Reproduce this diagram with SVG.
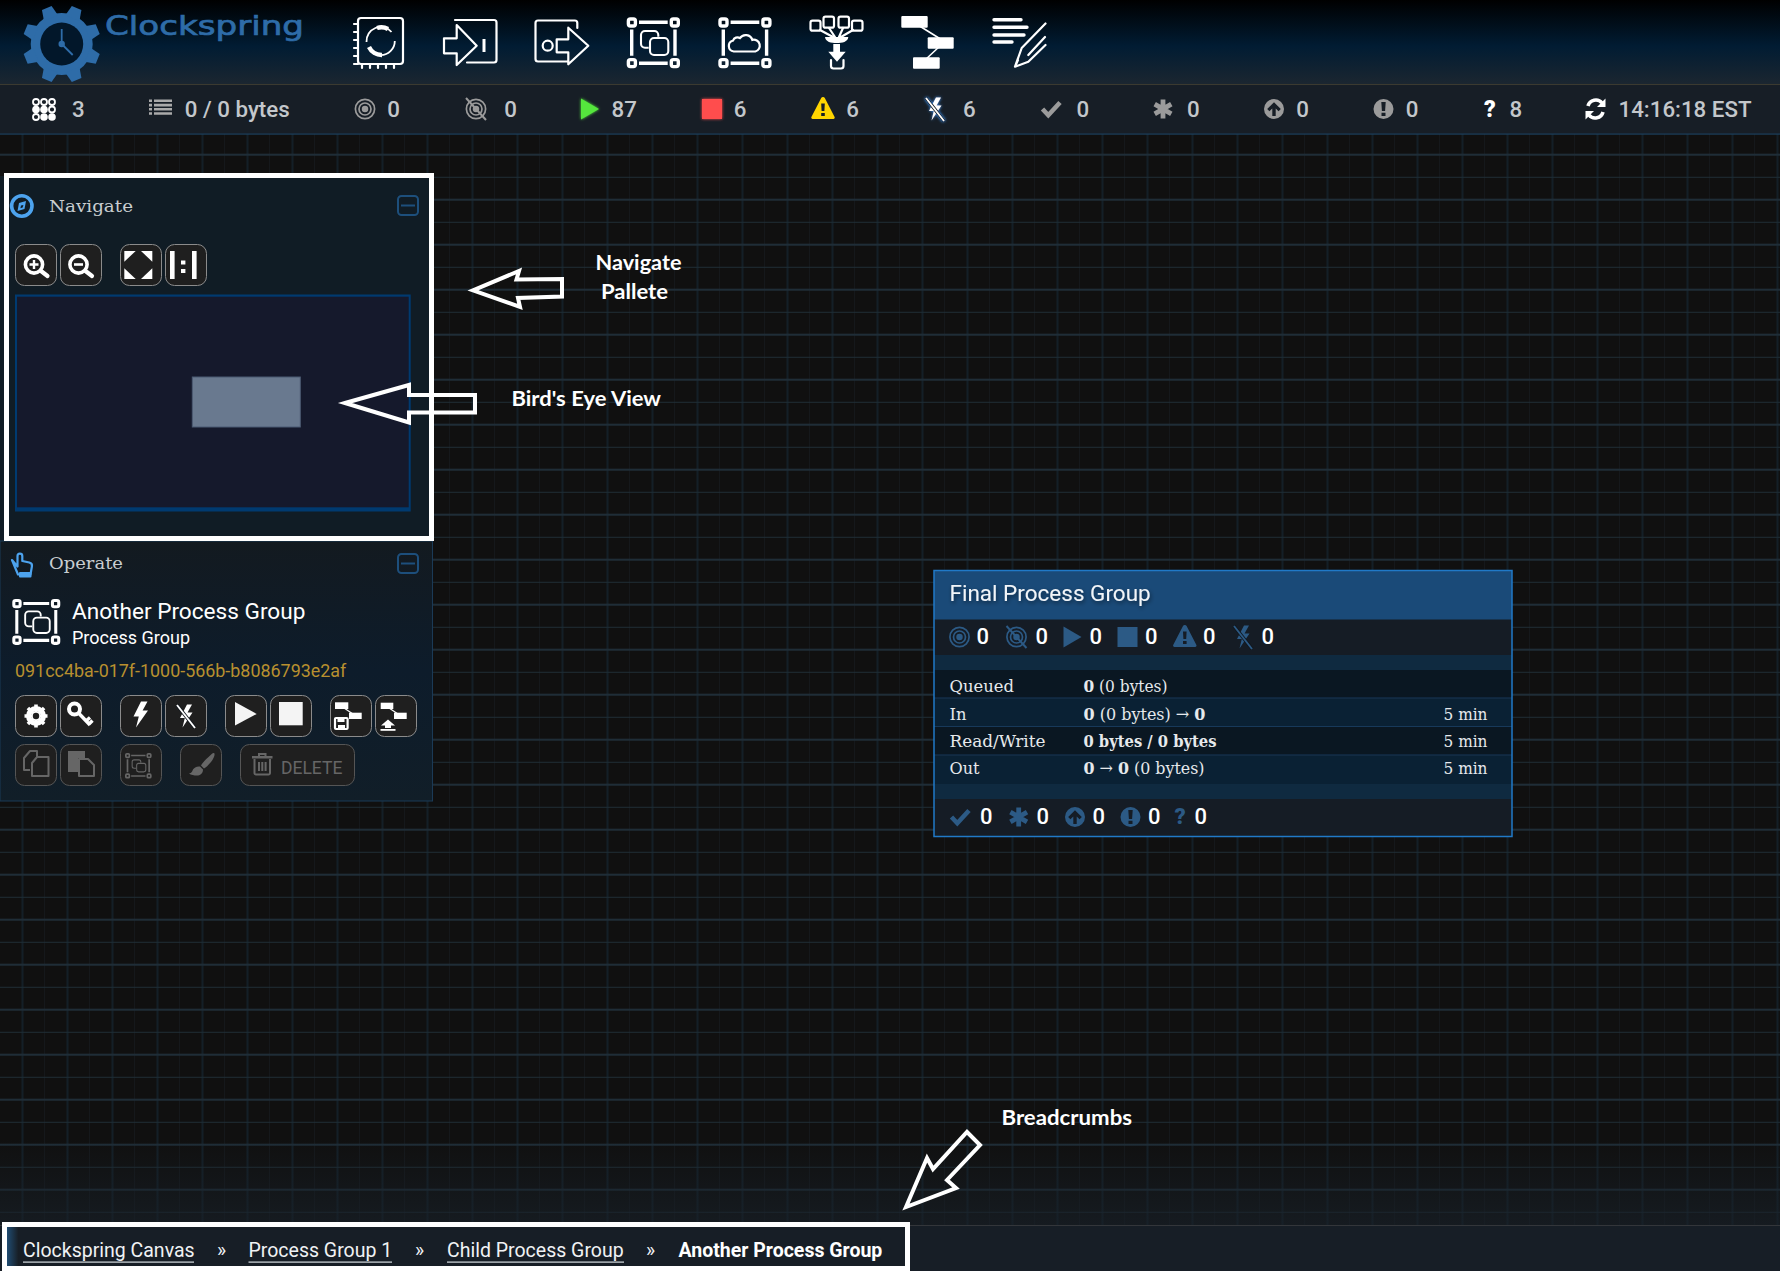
<svg xmlns="http://www.w3.org/2000/svg" xmlns:xlink="http://www.w3.org/1999/xlink" width="1780" height="1271" viewBox="0 0 1780 1271">
<style>
text{font-family:Roboto,"Liberation Sans",sans-serif;white-space:pre}
.st{font-size:22.3px;font-weight:500;fill:#c3c7cb}
.pn{font-size:22px;font-weight:500;fill:#fff}
.slab{font-family:"DejaVu Serif Condensed","DejaVu Serif",serif;font-size:17.5px;fill:#e6e9ec}
.pt{font-family:"DejaVu Serif",serif;font-size:17px;fill:#c8cdd0}
.ann{font-family:Lato,"Open Sans",sans-serif;font-size:21px;font-weight:700;fill:#fff}
.bc{font-size:19.5px;fill:#f0f2f4}
.arrow{fill:none;stroke:#fff;stroke-width:4;stroke-linejoin:miter}
.hl{fill:none;stroke:#fff;stroke-width:5}
.btn{fill:#1f1f1f;stroke:#8b8b8b;stroke-width:1}
.btnd{fill:#1f1f1f;stroke:#555;stroke-width:1}
.w{fill:#fff}
.ws{fill:none;stroke:#fff;stroke-width:2.2;stroke-linecap:round;stroke-linejoin:round}
.d{fill:#666}
.ds{fill:none;stroke:#666;stroke-width:2;stroke-linejoin:round}
.col{fill:none;stroke:#1d4f7c;stroke-width:2}
.ic{color:#9b9b9b}
.ip{color:#2c5a85}
</style>
<defs>
<pattern id="grid" patternUnits="userSpaceOnUse" width="45" height="45" x="0" y="0">
<rect x="21.5" y="0" width="2" height="45" fill="#141f27"/>
<rect x="44.5" y="0" width="1" height="45" fill="#191f25"/>
<rect x="0" y="18.7" width="45" height="2" fill="#1f2d37"/>
<rect x="0" y="41.8" width="45" height="1" fill="#1e2c34"/>
</pattern>
<linearGradient id="topbar" x1="0" y1="0" x2="0" y2="1"><stop offset="0" stop-color="#000"/><stop offset=".55" stop-color="#011c33"/><stop offset="1" stop-color="#1b2630"/></linearGradient>
<linearGradient id="panel" x1="0" y1="0" x2="0" y2="1"><stop offset="0" stop-color="#131a20"/><stop offset=".5" stop-color="#0d1c2b"/><stop offset="1" stop-color="#111e28"/></linearGradient>
<linearGradient id="floor" x1="0" y1="0" x2="0" y2="1"><stop offset="0" stop-color="#182028" stop-opacity="0"/><stop offset="1" stop-color="#182028" stop-opacity=".7"/></linearGradient>
<linearGradient id="crumb" x1="0" y1="0" x2="1" y2="0"><stop offset="0" stop-color="#204c72"/><stop offset="1" stop-color="#182028"/></linearGradient>
<filter id="glow" x="-60%" y="-60%" width="220%" height="220%"><feGaussianBlur stdDeviation="1.6" result="b"/><feMerge><feMergeNode in="b"/><feMergeNode in="SourceGraphic"/></feMerge></filter>
<filter id="bglow" x="-60%" y="-60%" width="220%" height="220%"><feDropShadow dx="0" dy="0" stdDeviation="1.8" flood-color="#3f9bff"/></filter>
<filter id="tsh" x="-10%" y="-30%" width="120%" height="160%"><feDropShadow dx="1" dy="2" stdDeviation="2" flood-color="#000" flood-opacity=".5"/></filter>

<g id="i-target" fill="none" stroke="currentColor" stroke-width="1.7"><circle r="9.6"/><circle r="6"/><circle r="2.4" fill="currentColor"/></g>
<g id="i-offline" fill="none" stroke="currentColor" stroke-width="1.7"><circle r="9.6"/><circle r="6"/><circle r="2.4" fill="currentColor"/><path d="M-10,-11 L10,11" stroke-width="2"/></g>
<polygon id="i-play" fill="currentColor" points="-9,-10.5 9,0 -9,10.5"/>
<rect id="i-stop" fill="currentColor" x="-10" y="-10" width="20" height="20"/>
<path id="i-warn" fill="currentColor" fill-rule="evenodd" d="M0,-11 a2,2 0 0 1 1.8,1 L11.6,9 a1.4,1.4 0 0 1 -1.2,2 H-10.4 a1.4,1.4 0 0 1 -1.2,-2 L-1.8,-10 a2,2 0 0 1 1.8,-1 Z M-1.8,-4.5 L-1.4,3 H1.4 L1.8,-4.5 Z M-1.8,5 V8 H1.8 V5 Z"/>
<g id="i-bolt"><polygon fill="currentColor" points="0,-13 -7.5,2 -2.2,2 -5,13 7,-4 1.6,-4 6.5,-13"/></g>
<g id="i-boltoff"><polygon fill="currentColor" points="1,-11.5 -6,2 -1.2,2 -3.5,11.5 6.5,-3.5 1.5,-3.5 6,-11.5"/><path d="M-9,-11 L9,12" stroke="#10161d" stroke-width="3.6"/><path d="M-9,-11 L9,12" stroke="currentColor" stroke-width="1.9"/></g>
<path id="i-check" fill="none" stroke="currentColor" stroke-width="4.6" d="M-9,0 L-3.2,6.2 L8.5,-6.5"/>
<g id="i-aster" stroke="currentColor" stroke-width="4.8"><path d="M0,-9.5 V9.5 M-8.3,-4.8 L8.3,4.8 M-8.3,4.8 L8.3,-4.8"/></g>
<path id="i-up" fill="currentColor" fill-rule="evenodd" d="M0,-10 A10,10 0 1 0 0,10 A10,10 0 1 0 0,-10 Z M0,-6.8 L6.8,0 L4.6,2.2 L1.7,-0.6 V7 H-1.7 V-0.6 L-4.6,2.2 L-6.8,0 Z"/>
<path id="i-excl" fill="currentColor" fill-rule="evenodd" d="M0,-10 A10,10 0 1 0 0,10 A10,10 0 1 0 0,-10 Z M-2.2,-7 L-1.6,2 H1.6 L2.2,-7 Z M-2,3.8 V7 H2 V3.8 Z"/>

<g id="i-frame" fill="none" stroke="currentColor">
<g stroke-width="3.4"><rect x="1.7" y="1.7" width="7" height="7" rx="2"/><rect x="44.6" y="1.7" width="7" height="7" rx="2"/><rect x="1.7" y="42.3" width="7" height="7" rx="2"/><rect x="44.6" y="42.3" width="7" height="7" rx="2"/></g>
<path stroke-width="3.4" d="M12.3,5 H41 M12.3,46 H41 M5,12.3 V38.5 M48.3,12.3 V38.5"/>
</g>
<g id="i-pgin" fill="none" stroke="currentColor" stroke-width="2.1"><path d="M31.6,19.5 V17.7 a4,4 0 0 0 -4,-4 H18.3 a4,4 0 0 0 -4,4 V26.4 a4,4 0 0 0 4,4 H22"/><rect x="23.3" y="20.7" width="18.3" height="17" rx="4"/></g>

<g id="i-tooth"><polygon points="-7.6,-28 -5.2,-39 5.2,-39 7.6,-28"/></g>
</defs>

<rect id="canvas" width="1780" height="1271" fill="#101010"/>
<rect width="1780" height="1271" fill="url(#grid)"/>
<rect y="1140" width="1780" height="86" fill="url(#floor)"/>

<g id="header">
<rect width="1780" height="84" fill="url(#topbar)"/>
<rect y="84" width="1780" height="1" fill="#3b3a30"/>
<g id="logo">
<g fill="#2e6ca8" transform="translate(61.7,44)">
<circle r="31"/>
<use xlink:href="#i-tooth" transform="rotate(22.5)"/><use xlink:href="#i-tooth" transform="rotate(67.5)"/><use xlink:href="#i-tooth" transform="rotate(112.5)"/><use xlink:href="#i-tooth" transform="rotate(157.5)"/><use xlink:href="#i-tooth" transform="rotate(202.5)"/><use xlink:href="#i-tooth" transform="rotate(247.5)"/><use xlink:href="#i-tooth" transform="rotate(292.5)"/><use xlink:href="#i-tooth" transform="rotate(337.5)"/>
<circle r="21.5" fill="#02172a"/>
<circle r="3.2"/>
<path d="M0,0 V-15 M0,0 L11,11" stroke="#2e6ca8" stroke-width="1.8"/>
</g>
<text x="105" y="34.5" font-size="27" textLength="199" lengthAdjust="spacingAndGlyphs" style="font-family:'DejaVu Sans',sans-serif;fill:#2e6ca8;stroke:#2e6ca8;stroke-width:.7">Clockspring</text>
</g>
<g id="tb-processor"><rect class="ws" x="358" y="18" width="45" height="46" rx="3"/><path class="ws" stroke-width="1.4" d="M354,24 h4 M354,32 h4 M354,40 h4 M354,48 h4 M354,56 h4 M354,64 h4 M362,64 v4 M370,64 v4 M378,64 v4 M386,64 v4 M394,64 v4"/><path d="M366.5,42 a14.2,14.2 0 0 1 25,-10 M394.8,41 a14.2,14.2 0 0 1 -14,14.2 a14.2,14.2 0 0 1 -10,-4" fill="none" stroke="#fff" stroke-width="1.8"/><path d="M369,47 a14,14 0 0 0 13,8 M377,28 a14,14 0 0 1 11,1" fill="none" stroke="#fff" stroke-width="4.4"/></g>
<g id="tb-input"><path class="ws" d="M455,20 H494 a2.5,2.5 0 0 1 2.5,2.5 V60 a2.5,2.5 0 0 1 -2.5,2.5 H467"/><polygon class="ws" points="444,38.3 456.7,38.3 456.7,25 476.7,45.7 456.7,65 456.7,53.3 444,53.3"/><rect class="w" x="482.5" y="39" width="3" height="13"/></g>
<g id="tb-output"><path class="ws" d="M577.3,28 V23 a2.5,2.5 0 0 0 -2.5,-2.5 H538 a2.5,2.5 0 0 0 -2.5,2.5 V59 a2.5,2.5 0 0 0 2.5,2.5 H568"/><circle class="ws" cx="547.7" cy="45.7" r="5"/><polygon class="ws" points="556.7,39.3 568.3,39.3 568.3,27.7 588.3,45.7 568.3,64.3 568.3,52.3 556.7,52.3"/></g>
<g id="tb-pg" color="#fff" transform="translate(626.7,17.3)"><use xlink:href="#i-frame"/><use xlink:href="#i-pgin"/></g>
<g id="tb-rpg" color="#fff" transform="translate(718.3,17.3)"><use xlink:href="#i-frame"/><path d="M15.5,34.2 a5.6,5.6 0 0 1 -0.7,-11 a4.6,4.6 0 0 1 6.8,-2.4 a7,7 0 0 1 12.4,1.8 a5.8,5.8 0 0 1 3,11.6 Z" fill="none" stroke="#fff" stroke-width="2.2"/></g>
<g id="tb-funnel"><rect class="ws" x="810.5" y="20.7" width="10" height="10" rx="2" stroke-width="1.8"/><rect class="ws" x="823.5" y="16.7" width="10.5" height="11" rx="2" stroke-width="1.8"/><rect class="ws" x="838.5" y="16.7" width="10.5" height="11" rx="2" stroke-width="1.8"/><rect class="ws" x="852" y="20.7" width="10.5" height="10" rx="2" stroke-width="1.8"/><path class="ws" stroke-width="1.6" d="M820,30 L833,37 M829,28 L835,37 M843,28 L839,37 M853,30 L841,37"/><path class="w" d="M825,37 H848.3 C848,42 842,43 836.7,43 C831,43 825.5,42 825,37 Z"/><polygon class="w" points="833.3,44 840,44 840,51.7 845.7,51.7 837,61.7 828.3,51.7 833.3,51.7"/><path class="ws" d="M831,60 V66 a2.5,2.5 0 0 0 2.5,2.5 H841 a2.5,2.5 0 0 0 2.5,-2.5 V60"/></g>
<g id="tb-template"><path d="M918,25 L942,40 M940,46 L925,60" stroke="#fff" stroke-width="1.6"/><rect class="w" x="901.3" y="16" width="26.4" height="11.7" rx="1"/><rect class="w" x="927.7" y="37.3" width="26" height="11.4" rx="1"/><rect class="w" x="913" y="57.3" width="26.7" height="11.4" rx="1"/></g>
<g id="tb-label"><path d="M994,19.7 H1021 M994,27.3 H1027 M994,35 H1024 M994,42 H1012" stroke="#fff" stroke-width="3.4" stroke-linecap="round"/><path class="ws" stroke-width="2.2" d="M1045.5,23.5 L1021.7,48 L1015,66.7 L1028.3,61.7 L1045.5,45 M1028.3,55 L1045,37 M1015,66.7 L1018,60"/></g>
</g>

<g id="status">
<rect y="85" width="1780" height="49" fill="#171e26"/>
<rect y="133.5" width="1780" height="1.2" fill="#1c3f5c"/>
<g id="s-cluster" fill="#fff"><circle cx="36" cy="102" r="3" fill="none" stroke="#fff" stroke-width="1.8"/><circle cx="44" cy="102" r="3" fill="none" stroke="#fff" stroke-width="1.8"/><circle cx="52" cy="102" r="3" fill="none" stroke="#fff" stroke-width="1.8"/><circle cx="36" cy="109.5" r="3.8"/><circle cx="44" cy="109.5" r="3.8"/><circle cx="52" cy="109.5" r="3" fill="none" stroke="#fff" stroke-width="1.8"/><circle cx="36" cy="117" r="3" fill="none" stroke="#fff" stroke-width="1.8"/><circle cx="44" cy="117" r="3.8"/><circle cx="52" cy="117" r="3.8"/></g>
<text class="st" x="72" y="117">3</text>
<g id="s-list" fill="#aaa"><path d="M149,99.5h3v2.6h-3z M154,99.5h18v2.6h-18z M149,103.8h3v2.6h-3z M154,103.8h18v2.6h-18z M149,108h3v2.6h-3z M154,108h18v2.6h-18z M149,112.2h3v2.6h-3z M154,112.2h18v2.6h-18z"/></g>
<text class="st" x="184.8" y="117">0 / 0 bytes</text>
<use xlink:href="#i-target" class="ic" x="365" y="109"/><text class="st" x="387.3" y="117">0</text>
<use xlink:href="#i-offline" class="ic" x="476" y="109"/><text class="st" x="504.3" y="117">0</text>
<use xlink:href="#i-play" x="590" y="109" style="color:#55e63c" filter="url(#glow)"/><text class="st" x="611.5" y="117">87</text>
<use xlink:href="#i-stop" x="712" y="109" style="color:#ff4d4d" filter="url(#glow)"/><text class="st" x="733.8" y="117">6</text>
<use xlink:href="#i-warn" x="823" y="108" style="color:#ffd500"/><text class="st" x="846.3" y="117">6</text>
<use xlink:href="#i-boltoff" x="935" y="109" style="color:#fff" filter="url(#bglow)"/><text class="st" x="963" y="117">6</text>
<use xlink:href="#i-check" class="ic" x="1051.5" y="109"/><text class="st" x="1076.5" y="117">0</text>
<use xlink:href="#i-aster" class="ic" x="1163" y="109"/><text class="st" x="1187" y="117">0</text>
<use xlink:href="#i-up" class="ic" x="1274" y="109"/><text class="st" x="1296.3" y="117">0</text>
<use xlink:href="#i-excl" class="ic" x="1383.5" y="109"/><text class="st" x="1405.8" y="117">0</text>
<text x="1484" y="117" style="font-size:23px;font-weight:900;fill:#fff">?</text><text class="st" x="1509.5" y="117">8</text>
<g id="s-refresh" fill="none" stroke="#fff" stroke-width="3.6"><path d="M1588,106 a8,8 0 0 1 14,-3"/><path d="M1603,112 a8,8 0 0 1 -14,3"/><polygon points="1605.5,98.5 1605.5,107 1597,107" fill="#fff" stroke="none"/><polygon points="1585.5,119.5 1585.5,111 1594,111" fill="#fff" stroke="none"/></g>
<text class="st" x="1618.5" y="117">14:16:18 EST</text>
</g>

<g id="navigate-panel">
<rect x="0" y="176" width="433" height="365" fill="#101c25"/>
<g id="nav-head"><circle cx="21.8" cy="206" r="10.2" fill="none" stroke="#4da3ee" stroke-width="3.6"/><polygon points="26,201 24.5,209 17.5,211 19,203" fill="#4da3ee"/><polygon points="23.4,205 22.7,207.6 20.4,208.2 21,205.6" fill="#101c25"/><text class="pt" x="49" y="211.7" textLength="84" lengthAdjust="spacingAndGlyphs">Navigate</text><rect class="col" x="398" y="196" width="20" height="19" rx="3.5"/><path class="col" d="M401,205.5 H415"/></g>
<g id="nav-zoomin"><rect class="btn" x="15.5" y="244.5" width="41" height="41" rx="9"/><circle cx="34" cy="264.5" r="8.6" fill="none" stroke="#fff" stroke-width="3.6"/><path d="M34,260 V269 M29.5,264.5 H38.5" stroke="#fff" stroke-width="2.4"/><path d="M41,271 L47.5,276" stroke="#fff" stroke-width="4.2" stroke-linecap="round"/></g>
<g id="nav-zoomout"><rect class="btn" x="60.5" y="244.5" width="41" height="41" rx="9"/><circle cx="78.5" cy="264.5" r="8.6" fill="none" stroke="#fff" stroke-width="3.6"/><path d="M74,264.5 H83" stroke="#fff" stroke-width="2.6"/><path d="M85.5,271 L92,276" stroke="#fff" stroke-width="4.2" stroke-linecap="round"/></g>
<g id="nav-fit"><rect class="btn" x="120.5" y="244.5" width="41" height="41" rx="9"/><polygon class="w" points="124.3,251 135.7,251 124.3,261.7"/><polygon class="w" points="152.3,251 141,251 152.3,261.7"/><polygon class="w" points="124.3,279 135.7,279 124.3,268.3"/><polygon class="w" points="152.3,279 141,279 152.3,268.3"/></g>
<g id="nav-actual"><rect class="btn" x="165.5" y="244.5" width="41" height="41" rx="9"/><rect class="w" x="170" y="251" width="4.6" height="28"/><rect class="w" x="192" y="251" width="4.6" height="28"/><rect class="w" x="181" y="260.5" width="4.4" height="4"/><rect class="w" x="181" y="269" width="4.4" height="4"/></g>
<g id="birdseye"><rect x="15" y="294.5" width="395.7" height="217" fill="#003a70"/><rect x="17" y="296.7" width="391.7" height="210.6" fill="#15192c"/><rect x="192.3" y="377" width="108" height="50" fill="#69798f" stroke="#4b5b72"/></g>
</g>

<g id="operate-panel">
<rect x="0" y="541" width="432.5" height="260" fill="url(#panel)" stroke="#1b3a56"/>
<g id="op-head"><path d="M12,560 L17.5,566.5 V556 a2.4,2.4 0 0 1 4.8,0 V561 l7,1.5 c2,.5 3,2 2.6,4 L30.5,574.5 H18 Z" fill="none" stroke="#4da3ee" stroke-width="2.2" stroke-linejoin="round"/><rect x="19" y="572" width="12.5" height="5.5" rx="1" fill="#4da3ee"/><text class="pt" x="49" y="569.3" textLength="74" lengthAdjust="spacingAndGlyphs">Operate</text><rect class="col" x="398" y="554" width="20" height="19" rx="3.5"/><path class="col" d="M401,563.5 H415"/></g>
<g id="op-icon" color="#fff" transform="translate(12.3,599) scale(.9)"><use xlink:href="#i-frame"/><use xlink:href="#i-pgin"/></g>
<text x="72" y="619.3" style="font-size:22.6px;fill:#fff">Another Process Group</text>
<text x="72" y="644" style="font-size:18px;fill:#fff">Process Group</text>
<text x="15" y="676.7" style="font-size:17.9px;fill:#b8902f">091cc4ba-017f-1000-566b-b8086793e2af</text>
<g id="op-config"><rect class="btn" x="15.5" y="695.5" width="41" height="41" rx="9"/><circle cx="36" cy="716" r="7.5" fill="none" stroke="#fff" stroke-width="5"/><path d="M36,704.5 V727.5 M24.5,716 H47.5 M27.9,707.9 L44.1,724.1 M44.1,707.9 L27.9,724.1" stroke="#fff" stroke-width="3.6"/><circle cx="36" cy="716" r="3.2" fill="#1f1f1f"/></g>
<g id="op-key"><rect class="btn" x="60.5" y="695.5" width="41" height="41" rx="9"/><circle cx="74.5" cy="709" r="5.5" fill="none" stroke="#fff" stroke-width="4"/><path d="M79,713.5 L90,725 M86,721 L90,717.5 M89,724 L92.5,720.5" stroke="#fff" stroke-width="3.4"/></g>
<g id="op-enable"><rect class="btn" x="120.5" y="695.5" width="41" height="41" rx="9"/><use xlink:href="#i-bolt" x="141" y="714.5" style="color:#fff"/></g>
<g id="op-disable"><rect class="btn" x="165.5" y="695.5" width="41" height="41" rx="9"/><use xlink:href="#i-boltoff" x="186" y="716" style="color:#fff"/></g>
<g id="op-start"><rect class="btn" x="225.5" y="695.5" width="41" height="41" rx="9"/><polygon points="235,702 256.7,714 235,725.5" fill="#f4f4f4"/></g>
<g id="op-stop"><rect class="btn" x="270.5" y="695.5" width="41" height="41" rx="9"/><rect x="279" y="702" width="23.7" height="23.3" fill="#f4f4f4"/></g>
<g id="op-savetpl"><rect class="btn" x="330.5" y="695.5" width="41" height="41" rx="9"/><rect class="w" x="335" y="702.3" width="13.3" height="6.7"/><rect class="w" x="349" y="712.7" width="12.7" height="6.3"/><path d="M344,708 L353,714" stroke="#fff" stroke-width="1.2"/><rect class="ws" stroke-width="1.6" x="335" y="718" width="12.6" height="11" rx="1"/><rect class="w" x="337.5" y="718" width="7" height="4"/><rect class="w" x="338" y="725" width="7" height="4"/></g>
<g id="op-uptpl"><rect class="btn" x="375.5" y="695.5" width="41" height="41" rx="9"/><rect class="w" x="380.7" y="702.7" width="12.6" height="6.3"/><rect class="w" x="394" y="712.7" width="12.7" height="6.3"/><path d="M389,708 L398,714" stroke="#fff" stroke-width="1.2"/><polygon class="w" points="388,719.5 395,725.5 391,725.5 391,728 385,728 385,725.5 381,725.5"/><rect class="w" x="380.5" y="729" width="15" height="1.8"/></g>
<g id="op-copy"><rect class="btnd" x="15.5" y="744.5" width="41" height="41" rx="9"/><path class="ds" d="M30,770 H24 V758 L30,751 H37 V757 M37,757 H48.5 V776 H32 V763 Z"/></g>
<g id="op-paste"><rect class="btnd" x="60.5" y="744.5" width="41" height="41" rx="9"/><path class="d" d="M68,751 H85 V758 H78 V772 H68 Z"/><path class="ds" d="M79,759 H88 L94,765 V776 H79 Z"/></g>
<g id="op-group"><rect class="btnd" x="120.5" y="744.5" width="41" height="41" rx="9"/><g color="#666" transform="translate(125,753) scale(.5)"><use xlink:href="#i-frame"/><use xlink:href="#i-pgin"/></g></g>
<g id="op-color"><rect class="btnd" x="180.5" y="744.5" width="41" height="41" rx="9"/><path class="d" d="M214,753 c1.5,1 0,5 -3,9 c-3,3.5 -5,5.5 -7,6.5 l-3,-3 c1,-2 4,-5.5 7,-8 c3,-3 5,-5 6,-4.5 Z M200,766.5 l3,3 c0,4 -3,6 -6,6 c-3,0 -6,-.5 -8,-2 c3,-.5 3,-2 4,-4 c1,-2 4,-3.5 7,-3 Z"/></g>
<g id="op-delete"><rect class="btnd" x="240.5" y="744.5" width="114" height="41" rx="9"/><path class="d" d="M252,756 H272.5 V758.5 H252 Z M258,753 H266.5 V756 H264.5 V755 H260 V756 H258 Z"/><path class="ds" stroke-width="2.4" d="M254.5,759 V773 a1.5,1.5 0 0 0 1.5,1.5 H268.5 a1.5,1.5 0 0 0 1.5,-1.5 V759"/><path class="ds" stroke-width="2" d="M259,762 V771 M262.3,762 V771 M265.6,762 V771"/><text x="281" y="774.3" style="font-size:17.5px;fill:#666">DELETE</text></g>
</g>

<g id="final-process-group">
<rect x="934" y="570.5" width="578" height="266" fill="#151c25"/>
<rect x="934" y="570.5" width="578" height="49" fill="#1a4a78"/>
<rect x="934" y="655" width="578" height="15" fill="#0f2a40"/>
<rect x="934" y="670" width="578" height="28" fill="#0a1722"/>
<rect x="934" y="698.5" width="578" height="28" fill="#0a2134"/>
<rect x="934" y="727" width="578" height="28" fill="#0a1722"/>
<rect x="934" y="755.5" width="578" height="28.5" fill="#0a2134"/>
<rect x="934" y="784" width="578" height="15" fill="#0f2a40"/>
<path d="M934,698 H1512 M934,726.5 H1512 M934,755 H1512" stroke="#17395a" stroke-width="1"/>
<rect x="934" y="570.5" width="578" height="266" fill="none" stroke="#2079c7" stroke-width="1.5"/>
<text x="949.5" y="600.7" filter="url(#tsh)" style="font-size:22.5px;fill:#f2f5f8">Final Process Group</text>
<use xlink:href="#i-target" class="ip" x="959.5" y="637"/><text class="pn" x="976.5" y="644">0</text>
<use xlink:href="#i-offline" class="ip" x="1016.5" y="637"/><text class="pn" x="1035.5" y="644">0</text>
<use xlink:href="#i-play" class="ip" x="1072.5" y="637"/><text class="pn" x="1089.5" y="644">0</text>
<use xlink:href="#i-stop" class="ip" x="1127.5" y="637"/><text class="pn" x="1145" y="644">0</text>
<use xlink:href="#i-warn" class="ip" x="1184.8" y="636"/><text class="pn" x="1203" y="644">0</text>
<use xlink:href="#i-boltoff" class="ip" x="1243" y="637"/><text class="pn" x="1261.5" y="644">0</text>
<text class="slab" x="949.5" y="691.7" textLength="64.5" lengthAdjust="spacingAndGlyphs">Queued</text>
<text class="slab" x="949.5" y="720" textLength="17" lengthAdjust="spacingAndGlyphs">In</text>
<text class="slab" x="949.5" y="746.7" textLength="96" lengthAdjust="spacingAndGlyphs">Read/Write</text>
<text class="slab" x="949.5" y="774" textLength="30" lengthAdjust="spacingAndGlyphs">Out</text>
<text class="slab" x="1083.5" y="691.7" textLength="84" lengthAdjust="spacingAndGlyphs"><tspan font-weight="700">0</tspan> (0 bytes)</text>
<text class="slab" x="1083.5" y="720" textLength="122" lengthAdjust="spacingAndGlyphs"><tspan font-weight="700">0</tspan> (0 bytes) → <tspan font-weight="700">0</tspan></text>
<text class="slab" x="1083.5" y="746.7" textLength="133" lengthAdjust="spacingAndGlyphs" font-weight="700">0 bytes / 0 bytes</text>
<text class="slab" x="1083.5" y="774" textLength="121" lengthAdjust="spacingAndGlyphs"><tspan font-weight="700">0</tspan> → <tspan font-weight="700">0</tspan> (0 bytes)</text>
<text class="slab" x="1443.5" y="720" textLength="44" lengthAdjust="spacingAndGlyphs">5 min</text>
<text class="slab" x="1443.5" y="746.7" textLength="44" lengthAdjust="spacingAndGlyphs">5 min</text>
<text class="slab" x="1443.5" y="774" textLength="44" lengthAdjust="spacingAndGlyphs">5 min</text>
<use xlink:href="#i-check" class="ip" x="960.5" y="817"/><text class="pn" x="980" y="824">0</text>
<use xlink:href="#i-aster" class="ip" x="1018.7" y="817"/><text class="pn" x="1036.5" y="824">0</text>
<use xlink:href="#i-up" class="ip" x="1075" y="817"/><text class="pn" x="1092.5" y="824">0</text>
<use xlink:href="#i-excl" class="ip" x="1130.5" y="817"/><text class="pn" x="1148" y="824">0</text>
<text x="1174.5" y="824" style="font-size:22px;font-weight:900;fill:#2c5a85">?</text><text class="pn" x="1194.5" y="824">0</text>
</g>

<g id="breadcrumbs">
<rect y="1225" width="1780" height="46" fill="#171e26"/>
<rect y="1225" width="1780" height="1" fill="#33363a"/>
<rect x="7" y="1227" width="11" height="39" fill="url(#crumb)"/>
<text class="bc" x="23" y="1257">Clockspring Canvas</text><rect x="23" y="1261.5" width="171" height="1.2" fill="#d8dde2"/>
<text class="bc" x="217" y="1257">»</text>
<text class="bc" x="248.5" y="1257">Process Group 1</text><rect x="248.5" y="1261.5" width="143.5" height="1.2" fill="#d8dde2"/>
<text class="bc" x="415" y="1257">»</text>
<text class="bc" x="447" y="1257">Child Process Group</text><rect x="447" y="1261.5" width="177" height="1.2" fill="#d8dde2"/>
<text class="bc" x="646" y="1257">»</text>
<text class="bc" x="678.5" y="1257" font-weight="700" style="fill:#fff">Another Process Group</text>
</g>

<g id="connectors">
<polygon class="arrow" points="473,290.3 519,271 516.5,279.5 562,279 562,296.5 518,298 520,307"/>
<polygon class="arrow" points="345,403 409,385 409,395 475,395 475,412.5 409,412.5 409,422.5"/>
<polygon class="arrow" stroke-width="3.5" points="906,1207 927,1158 933,1169 967,1132 980,1145 947,1180 956,1188"/>
</g>

<g id="annotations">
<rect class="hl" x="6.5" y="175.5" width="425" height="363"/>
<rect class="hl" x="4.5" y="1224.5" width="903" height="44"/>
<text class="ann" x="595.5" y="270" textLength="86" lengthAdjust="spacingAndGlyphs">Navigate</text>
<text class="ann" x="601" y="299" textLength="67" lengthAdjust="spacingAndGlyphs">Pallete</text>
<text class="ann" x="511.5" y="405.7" textLength="149.5" lengthAdjust="spacingAndGlyphs">Bird's Eye View</text>
<text class="ann" x="1001.5" y="1124.5" textLength="130.5" lengthAdjust="spacingAndGlyphs">Breadcrumbs</text>
</g>
</svg>
